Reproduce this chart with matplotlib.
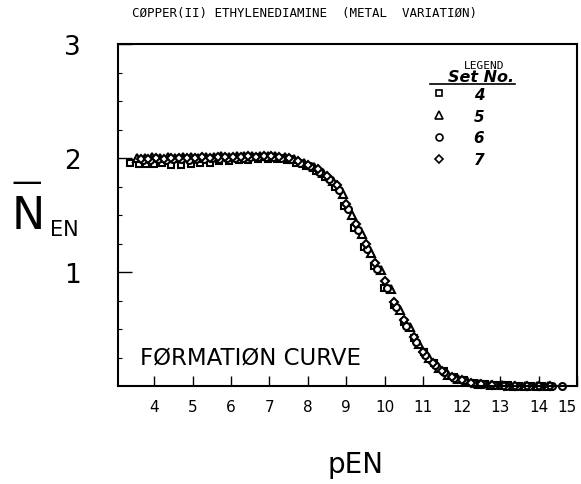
import matplotlib
matplotlib.use("Agg")
import matplotlib.pyplot as plt
from matplotlib.lines import Line2D

# ---- data ----
x4 = [3.38, 3.6, 3.8, 4.0, 4.2, 4.45, 4.7, 4.95, 5.2, 5.45, 5.7, 5.95, 6.2, 6.45, 6.7, 6.95,
      7.2, 7.45, 7.7, 7.95, 8.2, 8.45, 8.7, 8.95, 9.2, 9.45, 9.72, 9.98, 10.24, 10.5, 10.76,
      11.02, 11.28, 11.54, 11.8, 12.06, 12.32, 12.6, 12.9, 13.2, 13.5, 13.8, 14.1]
y4 = [1.96, 1.95, 1.95, 1.95, 1.96, 1.94, 1.94, 1.95, 1.96, 1.96, 1.97, 1.97, 1.98, 1.98, 1.99, 1.99,
      1.99, 1.98, 1.96, 1.93, 1.89, 1.83, 1.75, 1.58, 1.39, 1.22, 1.05, 0.86, 0.71, 0.56, 0.42,
      0.30, 0.20, 0.13, 0.08, 0.05, 0.03, 0.02, 0.01, 0.01, 0.0, 0.0, 0.0]

x5 = [3.55, 3.75, 3.95, 4.15, 4.35, 4.55, 4.75, 4.95, 5.15, 5.35, 5.55, 5.75, 5.95, 6.15, 6.35,
      6.55, 6.75, 6.95, 7.15, 7.4, 7.65, 7.9, 8.15, 8.4, 8.65, 8.9, 9.15, 9.4, 9.65, 9.9, 10.15,
      10.4, 10.65, 10.9, 11.15, 11.4, 11.65, 11.9, 12.15, 12.45, 12.75, 13.05, 13.35, 13.65,
      13.95, 14.25]
y5 = [2.0, 2.0, 2.01, 2.0, 2.01, 2.0, 2.01, 2.01, 2.0, 2.01, 2.01, 2.02, 2.01, 2.02, 2.02,
      2.02, 2.02, 2.02, 2.02, 2.01, 1.99, 1.96, 1.92, 1.87, 1.80, 1.68, 1.50, 1.33, 1.17, 1.02, 0.85,
      0.67, 0.52, 0.37, 0.25, 0.16, 0.10, 0.06, 0.04, 0.02, 0.01, 0.01, 0.0, 0.0,
      0.0, 0.0]

x6 = [3.7, 3.9, 4.1, 4.3, 4.5, 4.7, 4.9, 5.1, 5.3, 5.5, 5.7, 5.9, 6.1, 6.3, 6.5, 6.7, 6.9, 7.1,
      7.3, 7.55, 7.8, 8.05, 8.3, 8.55, 8.8, 9.05, 9.3, 9.55, 9.8, 10.05, 10.3, 10.55, 10.8, 11.05,
      11.3, 11.55, 11.8, 12.05, 12.3, 12.55, 12.85, 13.15, 13.45, 13.75, 14.05, 14.35, 14.6]
y6 = [1.98, 1.98, 1.99, 1.98, 1.99, 1.99, 1.98, 1.99, 1.99, 2.0, 1.99, 2.0, 2.0, 2.0, 2.01, 2.01,
      2.01, 2.01, 2.0, 1.99, 1.96, 1.93, 1.88, 1.82, 1.72, 1.55, 1.37, 1.2, 1.03, 0.86, 0.69, 0.53,
      0.39, 0.27, 0.18, 0.12, 0.07, 0.05, 0.03, 0.02, 0.01, 0.0, 0.0, 0.0, 0.0, 0.0, 0.0]

x7 = [3.65, 3.85, 4.05, 4.25, 4.45, 4.65, 4.85, 5.05, 5.25, 5.45, 5.65, 5.85, 6.05, 6.25, 6.45,
      6.65, 6.85, 7.05, 7.25, 7.5, 7.75, 8.0, 8.25, 8.5, 8.75, 9.0, 9.25, 9.5, 9.75, 10.0, 10.25,
      10.5, 10.75, 11.0, 11.25, 11.5, 11.75, 12.0, 12.25, 12.5, 12.8, 13.1, 13.4, 13.7, 14.0, 14.3]
y7 = [1.99, 1.99, 2.0, 1.99, 2.0, 2.0, 2.0, 2.0, 2.01, 2.0, 2.01, 2.01, 2.01, 2.01, 2.02,
      2.01, 2.02, 2.02, 2.01, 2.0, 1.97, 1.94, 1.9, 1.84, 1.76, 1.6, 1.42, 1.25, 1.08, 0.92, 0.74,
      0.58, 0.43, 0.3, 0.2, 0.13, 0.08, 0.05, 0.03, 0.02, 0.01, 0.0, 0.0, 0.0, 0.0, 0.0]

set_labels = ["4", "5", "6", "7"]
markers = ["s", "^", "o", "D"]
xticks = [4, 5, 6, 7, 8, 9, 10, 11, 12, 13, 14, 15]
yticks = [1, 2, 3]

title = "CØPPER(II) ETHYLENEDIAMINE  (METAL  VARIATIØN)"
note = "FØRMATIØN CURVE"

# ---- figure ----
W, H = 581, 485
fig = plt.figure(figsize=(W / 100, H / 100), dpi=100)
ax = fig.add_axes([118 / W, 1 - 387 / H, (577 - 118) / W, (387 - 45) / H])

series = [(x4, y4), (x5, y5), (x6, y6), (x7, y7)]
msizes = [5, 5.5, 5, 4.5]
for (xs, ys), m, ms, lab in zip(series, markers, msizes, set_labels):
    ax.plot(xs, ys, linestyle="none", marker=m, markersize=ms, markerfacecolor="white",
            markeredgecolor="black", markeredgewidth=1.5, label=lab, clip_on=False)

ax.set_xlim(3.06, 15)
ax.set_ylim(0, 3)
ax.set_xticks(xticks)
ax.set_yticks(yticks)
ax.tick_params(axis="x", direction="in", length=7, width=1, labelsize=11, pad=9)
ax.tick_params(axis="y", direction="in", length=10, width=1, labelsize=19, pad=27)
ax.set_yticks([0.25, 0.5, 0.75, 1.25, 1.5, 1.75, 2.25, 2.5, 2.75], minor=True)
ax.tick_params(axis="y", which="minor", direction="in", length=3, width=0.8)
for s in ax.spines.values():
    s.set_linewidth(1.5)
# keep the last x tick label inside the figure
fig.canvas.draw()
ax.get_xticklabels()[-1].set_horizontalalignment("right")

# title
fig.text(304 / W, 1 - 14 / H, title, ha="center", va="center", family="DejaVu Sans Mono",
         fontsize=9)

# note in axes
ax.text(140 / W, 1 - 358 / H, note, transform=fig.transFigure, ha="left", va="center",
        fontsize=16.5, family="DejaVu Sans")

# y label: N-bar with subscript EN
fig.text(27 / W, 1 - 182 / H, "—", ha="center", va="center", fontsize=22)
fig.text(28 / W, 1 - 217 / H, "N", ha="center", va="center", fontsize=32)
fig.text(64 / W, 1 - 230 / H, "EN", ha="center", va="center", fontsize=15)

# x label
fig.text(355 / W, 1 - 465 / H, "pEN", ha="center", va="center", fontsize=20)

# legend
fig.text(484 / W, 1 - 66 / H, "LEGEND", ha="center", va="center", family="DejaVu Sans Mono",
         fontsize=8)
fig.text(481 / W, 1 - 77 / H, "Set No.", ha="center", va="center", fontsize=11.5,
         fontweight="bold", fontstyle="italic")
fig.add_artist(Line2D([430 / W, 515 / W], [1 - 85 / H, 1 - 85 / H], color="black", lw=1.2,
                      transform=fig.transFigure))
handles = [Line2D([], [], linestyle="none", marker=m, markersize=ms, markerfacecolor="white",
                  markeredgecolor="black", markeredgewidth=1.2)
           for m, ms in zip(markers, msizes)]
leg = ax.legend(handles, set_labels, loc="upper left",
                bbox_to_anchor=(421 / W, 1 - 77 / H), bbox_transform=fig.transFigure,
                frameon=False, handlelength=1.0, handletextpad=1.75, labelspacing=0.45,
                borderpad=0.2, prop={"size": 11, "weight": "bold", "style": "italic"})

fig.savefig("out.png", dpi=100)
